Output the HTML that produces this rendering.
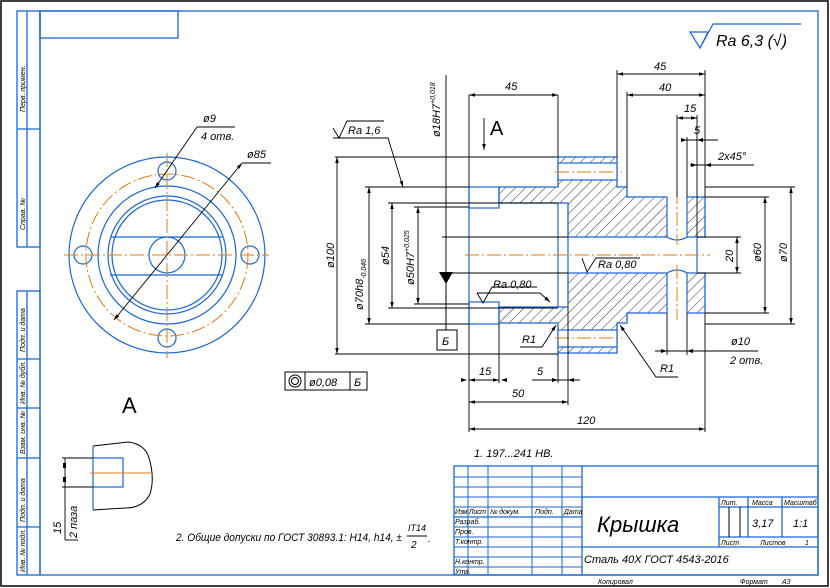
<!DOCTYPE html>
<html><head><meta charset="utf-8"><style>
html,body{margin:0;padding:0;background:#fff;width:830px;height:588px;overflow:hidden}
text{font-family:"Liberation Sans","DejaVu Sans",sans-serif;font-style:italic;fill:#000}
</style></head><body>
<svg width="830" height="588" viewBox="0 0 830 588" xmlns="http://www.w3.org/2000/svg">
<defs>
<pattern id="h" width="7" height="7" patternUnits="userSpaceOnUse" patternTransform="rotate(45)">
<line x1="0" y1="0" x2="0" y2="7" stroke="#000" stroke-width="0.8"/>
</pattern>
<marker id="a" viewBox="0 0 10 6" refX="10" refY="3" markerWidth="8" markerHeight="4" orient="auto-start-reverse"><path d="M0,0L10,3L0,6z" fill="#000"/></marker>
</defs>
<rect x="1" y="1" width="827" height="585" fill="#fff" stroke="#000" stroke-width="1.5"/>
<g fill="none" stroke="#1a66d6" stroke-width="1.3">
<rect x="40" y="11" width="778" height="564"/>
<rect x="17" y="11" width="23" height="236"/>
<line x1="17" y1="129" x2="40" y2="129"/><line x1="27" y1="11" x2="27" y2="247"/>
<rect x="17" y="291" width="23" height="284"/>
<line x1="27" y1="291" x2="27" y2="575"/>
<line x1="17" y1="359" x2="40" y2="359"/><line x1="17" y1="408" x2="40" y2="408"/><line x1="17" y1="458" x2="40" y2="458"/><line x1="17" y1="527" x2="40" y2="527"/>
<rect x="40" y="11" width="138" height="27"/>
<rect x="454" y="466" width="364" height="109"/>
<g stroke-width="1">
<line x1="468" y1="466" x2="468" y2="575"/><line x1="488" y1="466" x2="488" y2="575"/><line x1="532" y1="466" x2="532" y2="575"/><line x1="562" y1="466" x2="562" y2="575"/>
<line x1="454" y1="477" x2="582" y2="477"/><line x1="454" y1="487" x2="582" y2="487"/><line x1="454" y1="497" x2="582" y2="497"/><line x1="454" y1="507" x2="582" y2="507"/><line x1="454" y1="527" x2="582" y2="527"/><line x1="454" y1="537" x2="582" y2="537"/><line x1="454" y1="547" x2="582" y2="547"/><line x1="454" y1="557" x2="582" y2="557"/><line x1="454" y1="567" x2="582" y2="567"/>
</g>
<line x1="454" y1="517" x2="582" y2="517"/>
<line x1="582" y1="466" x2="582" y2="575"/>
<line x1="582" y1="497" x2="818" y2="497"/>
<line x1="582" y1="547" x2="818" y2="547"/>
<line x1="719" y1="497" x2="719" y2="547"/>
<line x1="719" y1="507" x2="818" y2="507"/><line x1="719" y1="537" x2="818" y2="537"/>
<line x1="748" y1="497" x2="748" y2="537"/><line x1="782" y1="497" x2="782" y2="537"/>
</g>
<g stroke="#000" stroke-width="1"><line x1="729" y1="507" x2="729" y2="537"/><line x1="740" y1="507" x2="740" y2="537"/></g>
<g font-size="7">
<text x="455" y="514" textLength="31">Изм Лист</text><text x="490" y="514" textLength="30">№ докум.</text><text x="535" y="514">Подп.</text><text x="564" y="514">Дата</text>
<text x="455" y="524">Разраб.</text><text x="455" y="534">Пров.</text><text x="455" y="544">Т.контр.</text><text x="455" y="564">Н.контр.</text><text x="455" y="574">Утв.</text>
<text x="721" y="505">Лит.</text><text x="752" y="505">Масса</text><text x="784" y="505">Масштаб</text>
<text x="721" y="545">Лист</text><text x="760" y="545">Листов</text><text x="805" y="545">1</text>
<text x="598" y="584">Копировал</text><text x="740" y="584">Формат</text><text x="782" y="584">А3</text>
</g>
<text x="597" y="532" font-size="22">Крышка</text>
<text x="752" y="527" font-size="11">3,17</text><text x="793" y="527" font-size="11">1:1</text>
<text x="584" y="563" font-size="11">Сталь 40Х ГОСТ 4543-2016</text>
<text x="474" y="457" font-size="11">1. 197...241 НВ.</text>
<text x="176" y="541" font-size="11" textLength="226" lengthAdjust="spacingAndGlyphs">2. Общие допуски по ГОСТ 30893.1: H14, h14, ±</text>
<text x="408" y="531" font-size="9">IT14</text><line x1="407" y1="536" x2="427" y2="536" stroke="#000"/><text x="411" y="548" font-size="10">2</text><text x="428" y="542" font-size="10">.</text>
<path d="M690,32 L708,32 L700,48 Z" fill="none" stroke="#1a66d6" stroke-width="1.2"/>
<path d="M700,48 L713,24 L801,24" fill="none" stroke="#1a66d6" stroke-width="1.2"/>
<text x="716" y="46" font-size="16">Ra 6,3 (√)</text>
<g font-size="7">
<text transform="translate(25,112) rotate(-90)">Перв. примен.</text>
<text transform="translate(25,230) rotate(-90)">Справ. №</text>
<text transform="translate(25,352) rotate(-90)">Подп. и дата</text>
<text transform="translate(25,404) rotate(-90)" textLength="43">Инв. № дубл.</text>
<text transform="translate(25,454) rotate(-90)" textLength="43">Взам. инв. №</text>
<text transform="translate(25,522) rotate(-90)">Подп. и дата</text>
<text transform="translate(25,572) rotate(-90)" textLength="43">Инв. № подл.</text>
</g>
<g fill="none" stroke="#1a66d6" stroke-width="1.2">
<circle cx="167" cy="255" r="98"/>
<circle cx="167" cy="255" r="69"/>
<circle cx="167" cy="255" r="59"/>
<circle cx="167" cy="255" r="55"/>
<circle cx="167" cy="255" r="18"/>
<line x1="110" y1="237" x2="223" y2="237"/><line x1="110" y1="275" x2="223" y2="275"/>
<circle cx="167" cy="171" r="9"/><circle cx="83" cy="255" r="9"/><circle cx="250" cy="255" r="9"/><circle cx="167" cy="338" r="9"/>
</g>
<g fill="none" stroke="#e07a10" stroke-width="1" stroke-dasharray="14,3,2,3">
<circle cx="167" cy="255" r="81"/>
<line x1="64" y1="255" x2="269" y2="255"/><line x1="167" y1="153" x2="167" y2="358"/>
</g>
<g stroke="#000" stroke-width="0.9" fill="none">
<line x1="114" y1="320" x2="242" y2="163" marker-start="url(#a)" marker-end="url(#a)"/><line x1="242" y1="163" x2="271" y2="163"/>
<line x1="155" y1="188" x2="197" y2="127" marker-start="url(#a)"/><line x1="197" y1="127" x2="235" y2="127"/>
</g>
<text x="247" y="158" font-size="11">ø85</text><text x="203" y="122" font-size="11">ø9</text><text x="201" y="140" font-size="11">4 отв.</text>
<text x="122" y="413" font-size="22" style="font-style:normal">A</text>
<path d="M93,446 L128,442 Q145,444 149,458 Q155,478 150,494 Q143,508 125,508 L93,510" fill="none" stroke="#000" stroke-width="1"/>
<path d="M93,446 L93,458 M93,487 L93,510" stroke="#1a66d6" stroke-width="1.2"/>
<rect x="93" y="458" width="30" height="29" fill="none" stroke="#1a66d6" stroke-width="1.2"/>
<line x1="90" y1="473" x2="152" y2="473" stroke="#e07a10"/>
<g stroke="#000" stroke-width="0.9"><line x1="62" y1="458" x2="93" y2="458"/><line x1="62" y1="487" x2="93" y2="487"/><line x1="65" y1="458" x2="65" y2="540"/><line x1="65" y1="540" x2="78" y2="540"/></g>
<rect x="63" y="463" width="3" height="5"/><rect x="63" y="477" width="3" height="5"/>
<text transform="translate(61,534) rotate(-90)" font-size="11">15</text>
<text transform="translate(77,538) rotate(-90)" font-size="11">2 паза</text>
<g stroke="#1a66d6" stroke-width="1.3" fill="url(#h)">
<path d="M499,187 L558,187 L558,157 L617,157 L617,187 L627,187 L627,197 L705,197 L705,237 L568,237 L568,203 L499,203 Z"/>
<path d="M499,323 L558,323 L558,353 L617,353 L617,323 L627,323 L627,313 L705,313 L705,273 L568,273 L568,307 L499,307 Z"/>
</g>
<g fill="#fff" stroke="#1a66d6" stroke-width="1.2">
<rect x="558" y="163" width="59" height="17"/><rect x="558" y="330" width="59" height="17"/>
<rect x="667" y="196" width="20" height="42" stroke="none"/><rect x="667" y="272" width="20" height="42" stroke="none"/>
</g>
<g fill="none" stroke="#1a66d6" stroke-width="1.2">
<path d="M667,197 L667,237 Q677,243 687,237 L687,197 M667,313 L667,273 Q677,267 687,273 L687,313"/>
<rect x="469" y="187" width="30" height="21"/><rect x="469" y="302" width="30" height="22"/>
<line x1="469" y1="187" x2="469" y2="324"/>
<line x1="558" y1="203" x2="558" y2="307"/>
<line x1="568" y1="237" x2="568" y2="273"/>
<line x1="697" y1="237" x2="697" y2="273"/>
</g>
<g stroke="#e07a10" stroke-width="1" stroke-dasharray="14,3,2,3">
<line x1="465" y1="255" x2="710" y2="255"/><line x1="555" y1="172" x2="622" y2="172"/><line x1="555" y1="338" x2="622" y2="338"/>
<line x1="677" y1="190" x2="677" y2="245"/><line x1="677" y1="265" x2="677" y2="320"/>
</g>
<g stroke="#000" stroke-width="0.9" fill="none">
<line x1="469" y1="95" x2="469" y2="187"/><line x1="558" y1="95" x2="558" y2="157"/>
<line x1="617" y1="70" x2="617" y2="157"/><line x1="627" y1="92" x2="627" y2="187"/>
<line x1="705" y1="70" x2="705" y2="197"/><line x1="677" y1="115" x2="677" y2="197"/>
<line x1="697" y1="115" x2="697" y2="237"/><line x1="687" y1="137" x2="687" y2="197"/>
<line x1="469" y1="95" x2="558" y2="95" marker-start="url(#a)" marker-end="url(#a)"/>
<line x1="617" y1="74" x2="705" y2="74" marker-start="url(#a)" marker-end="url(#a)"/>
<line x1="627" y1="95" x2="705" y2="95" marker-start="url(#a)" marker-end="url(#a)"/>
<line x1="677" y1="118" x2="697" y2="118" marker-start="url(#a)" marker-end="url(#a)"/>
<line x1="686" y1="140" x2="718" y2="140"/>
<line x1="690" y1="165" x2="754" y2="165"/>
<line x1="335" y1="157" x2="558" y2="157"/><line x1="335" y1="354" x2="558" y2="354"/>
<line x1="337" y1="157" x2="337" y2="354" marker-start="url(#a)" marker-end="url(#a)"/>
<line x1="365" y1="187" x2="469" y2="187"/><line x1="365" y1="324" x2="469" y2="324"/>
<line x1="369" y1="187" x2="369" y2="324" marker-start="url(#a)" marker-end="url(#a)"/>
<line x1="388" y1="203" x2="558" y2="203"/><line x1="388" y1="308" x2="558" y2="308"/>
<line x1="392" y1="203" x2="392" y2="308" marker-start="url(#a)" marker-end="url(#a)"/>
<line x1="414" y1="207" x2="469" y2="207"/><line x1="414" y1="304" x2="469" y2="304"/>
<line x1="418" y1="207" x2="418" y2="304" marker-start="url(#a)" marker-end="url(#a)"/>
<line x1="442" y1="237" x2="568" y2="237"/><line x1="442" y1="273" x2="568" y2="273"/>
<line x1="446" y1="75" x2="446" y2="330"/>
<line x1="697" y1="237" x2="741" y2="237"/><line x1="697" y1="273" x2="741" y2="273"/>
<line x1="737" y1="237" x2="737" y2="273" marker-start="url(#a)" marker-end="url(#a)"/>
<line x1="705" y1="197" x2="769" y2="197"/><line x1="705" y1="313" x2="769" y2="313"/>
<line x1="765" y1="197" x2="765" y2="313" marker-start="url(#a)" marker-end="url(#a)"/>
<line x1="705" y1="187" x2="795" y2="187"/><line x1="705" y1="324" x2="795" y2="324"/>
<line x1="791" y1="187" x2="791" y2="324" marker-start="url(#a)" marker-end="url(#a)"/>
<line x1="667" y1="313" x2="667" y2="355"/><line x1="687" y1="313" x2="687" y2="355"/>
<line x1="655" y1="351" x2="758" y2="351"/>
<line x1="469" y1="324" x2="469" y2="432"/><line x1="499" y1="324" x2="499" y2="383"/>
<line x1="558" y1="354" x2="558" y2="383"/><line x1="568" y1="307" x2="568" y2="405"/><line x1="705" y1="313" x2="705" y2="432"/>
<line x1="469" y1="380" x2="499" y2="380" marker-start="url(#a)" marker-end="url(#a)"/>
<line x1="532" y1="380" x2="580" y2="380"/>
<line x1="469" y1="402" x2="568" y2="402" marker-start="url(#a)" marker-end="url(#a)"/>
<line x1="469" y1="429" x2="705" y2="429" marker-start="url(#a)" marker-end="url(#a)"/>
<path d="M333,138 L388,138 L403,187" marker-end="url(#a)"/>
<path d="M333,128 L339,138 L347,121 L384,121"/>
<path d="M582,258 L587,272 L596,258 L640,258"/>
<path d="M477,293 L483,303 L492,287 L537,287"/><path d="M477,293 L540,293 L550,302" marker-end="url(#a)"/>
<path d="M520,347 L542,347 L556,325" marker-end="url(#a)"/>
<path d="M678,377 L656,377 L620,325" marker-end="url(#a)"/>
<line x1="484" y1="118" x2="484" y2="150" marker-end="url(#a)"/>
</g>
<g fill="#000">
<path d="M439,272 L453,272 L446,284Z"/><line x1="446" y1="284" x2="446" y2="330" stroke="#000"/>
<path d="M467,380 l-6,-2 v4z M501,380 l6,-2 v4z"/>
<path d="M558,380 l-6,-2 v4z M568,380 l6,-2 v4z"/>
<path d="M687,140 l-6,-2 v4z M697,140 l6,-2 v4z"/>
<path d="M697,165 l-6,-2 v4z M705,165 l6,-2 v4z"/>
<path d="M667,351 l-6,-2 v4z M687,351 l6,-2 v4z"/>
</g>
<rect x="437" y="330" width="20" height="20" fill="none" stroke="#000"/><text x="442" y="345" font-size="11">Б</text>
<rect x="285" y="372" width="82" height="18" fill="none" stroke="#000"/>
<line x1="305" y1="372" x2="305" y2="390" stroke="#000"/><line x1="350" y1="372" x2="350" y2="390" stroke="#000"/>
<circle cx="295" cy="381" r="6" fill="none" stroke="#000"/><circle cx="295" cy="381" r="3.5" fill="none" stroke="#000"/>
<text x="309" y="386" font-size="11">ø0,08</text><text x="354" y="386" font-size="11">Б</text>
<g font-size="11">
<text x="505" y="90">45</text><text x="654" y="70">45</text><text x="659" y="91">40</text>
<text x="684" y="112">15</text><text x="694" y="134">5</text><text x="718" y="160">2x45°</text>
<text x="348" y="134">Ra 1,6</text><text x="598" y="268">Ra 0,80</text><text x="493" y="288">Ra 0,80</text>
<text x="522" y="343">R1</text><text x="660" y="372">R1</text>
<text x="731" y="345">ø10</text><text x="730" y="364">2 отв.</text>
<text x="479" y="375">15</text><text x="537" y="375">5</text><text x="512" y="397">50</text><text x="577" y="424">120</text>
<text x="490" y="135" font-size="20" style="font-style:normal">A</text>
<text transform="translate(334,268) rotate(-90)">ø100</text>
<text transform="translate(363,310) rotate(-90)">ø70h8<tspan font-size="7" dy="3">-0,046</tspan></text>
<text transform="translate(389,265) rotate(-90)">ø54</text>
<text transform="translate(414,285) rotate(-90)">ø50H7<tspan font-size="7" dy="-5">+0,025</tspan></text>
<text transform="translate(440,137) rotate(-90)">ø18H7<tspan font-size="7" dy="-5">+0,018</tspan></text>
<text transform="translate(733,262) rotate(-90)">20</text>
<text transform="translate(761,262) rotate(-90)">ø60</text>
<text transform="translate(787,262) rotate(-90)">ø70</text>
</g>
</svg>
</body></html>
